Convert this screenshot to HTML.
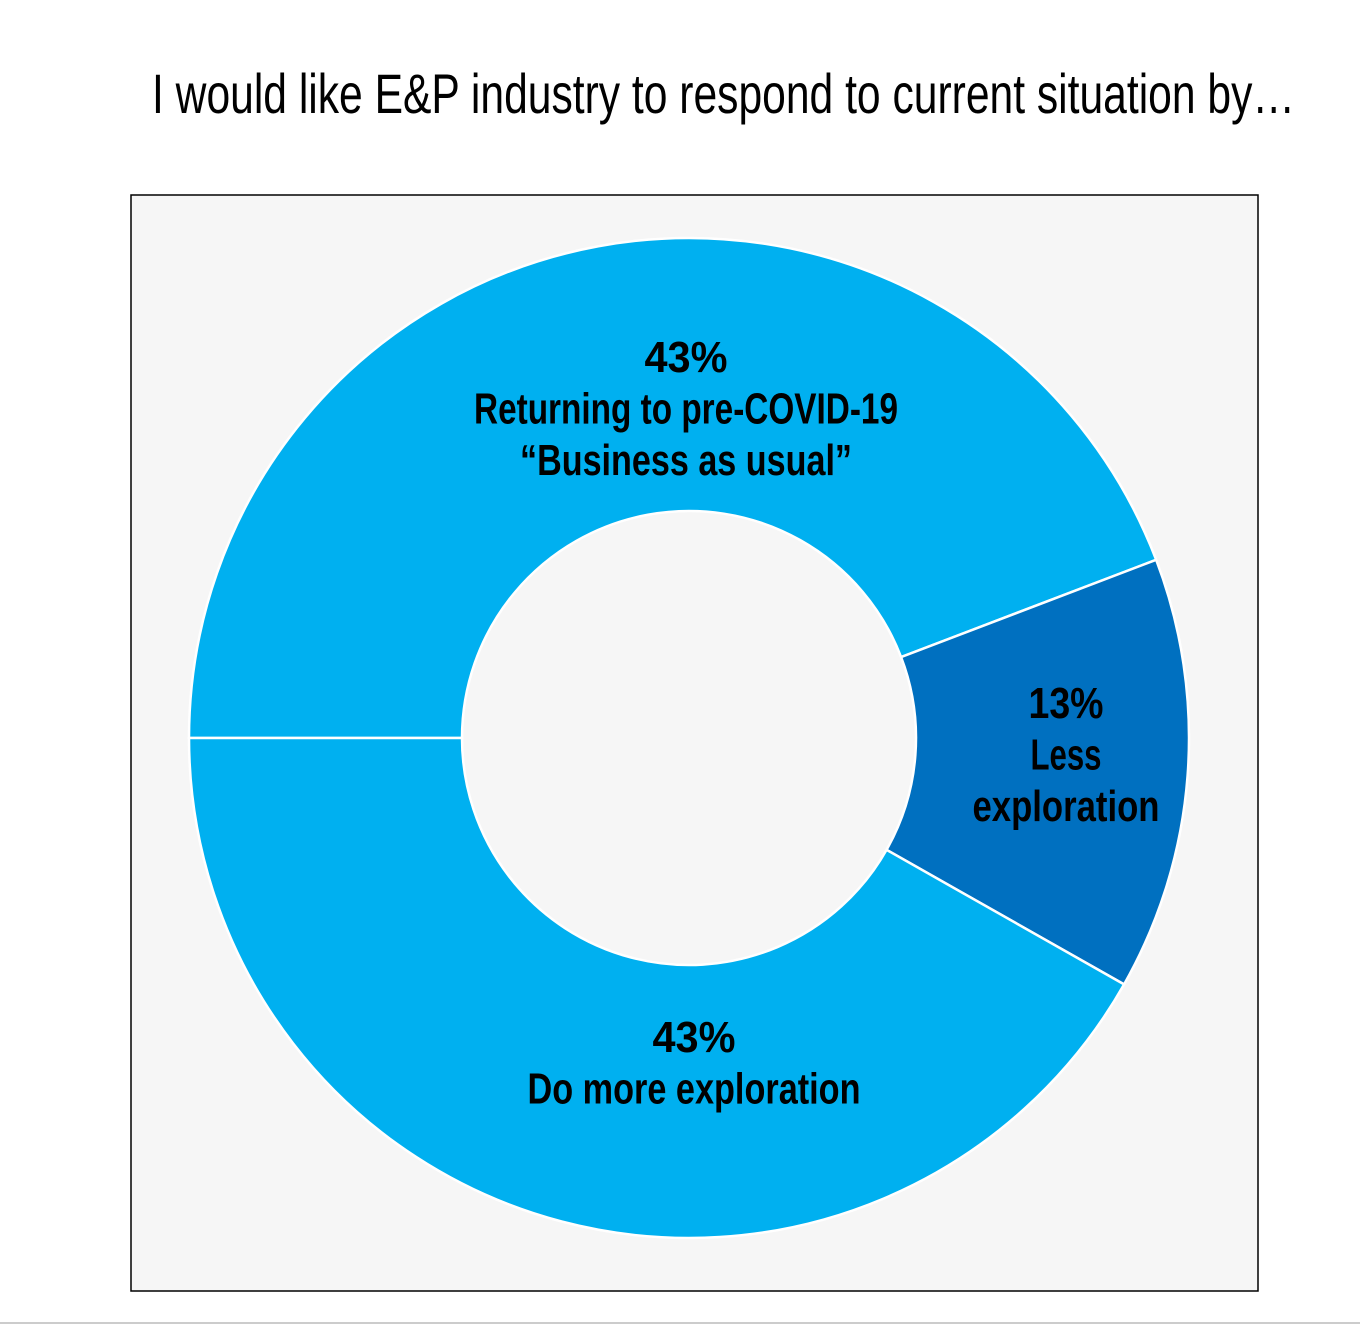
<!DOCTYPE html>
<html><head><meta charset="utf-8"><style>
html,body{margin:0;padding:0;background:#fff;}
svg{display:block;font-family:"Liberation Sans Narrow","Liberation Sans",sans-serif;}
</style></head><body>
<svg width="1360" height="1327" viewBox="0 0 1360 1327">
<text x="152" y="113" font-size="56" textLength="1143" lengthAdjust="spacingAndGlyphs" fill="#000">I would like E&amp;P industry to respond to current situation by…</text>
<rect x="131" y="195" width="1127" height="1096" fill="#f6f6f6" stroke="#000" stroke-width="1.5"/>
<line x1="0" y1="1323" x2="1360" y2="1323" stroke="#ccc" stroke-width="2"/>
<g id="slices"></g>
<g id="labels"></g>
</svg>
<script>
const categories = ["Returning to pre-COVID-19 “Business as usual”", "Less exploration", "Do more exploration"];
const values = [44.2, 14.0, 41.8];
const percentLabels = ["43%", "13%", "43%"];
const colors = ["#00b0f0", "#0070c0", "#00b0f0"];
const labelLines = [["Returning to pre-COVID-19", "“Business as usual”"], ["Less", "exploration"], ["Do more exploration"]];

const cx = 689, cy = 738, R = 500, r = 227;
const NS = "http://www.w3.org/2000/svg";
// layout (not data): label anchor centers, first baseline, line widths
const labelLayout = [
  {x: 686, y: 372, w: [83, 424, 332]},
  {x: 1066, y: 718, w: [75, 71, 187]},
  {x: 694, y: 1052, w: [83, 333]}
];
const total = values.reduce((a, b) => a + b, 0);
function pt(rad, ang) { return [cx + rad * Math.cos(ang), cy + rad * Math.sin(ang)]; }
const slicesG = document.getElementById("slices");
const labelsG = document.getElementById("labels");
let a0 = Math.PI;
values.forEach((v, i) => {
  const a1 = a0 + v / total * 2 * Math.PI;
  const large = (a1 - a0) > Math.PI ? 1 : 0;
  const [x0, y0] = pt(R, a0), [x1, y1] = pt(R, a1), [x2, y2] = pt(r, a1), [x3, y3] = pt(r, a0);
  const p = document.createElementNS(NS, "path");
  p.setAttribute("d", `M${x0},${y0} A${R},${R} 0 ${large} 1 ${x1},${y1} L${x2},${y2} A${r},${r} 0 ${large} 0 ${x3},${y3} Z`);
  p.setAttribute("fill", colors[i]);
  p.setAttribute("stroke", "#fff");
  p.setAttribute("stroke-width", "2.5");
  
  
  slicesG.appendChild(p);
  const L = labelLayout[i];
  const lines = [percentLabels[i]].concat(labelLines[i]);
  lines.forEach((t, j) => {
    const tx = document.createElementNS(NS, "text");
    tx.setAttribute("x", L.x);
    tx.setAttribute("y", L.y + j * 51.5);
    tx.setAttribute("text-anchor", "middle");
    tx.setAttribute("font-size", "44");
    tx.setAttribute("font-weight", "bold");
    tx.setAttribute("fill", "#000");
    if (L.w[j]) { tx.setAttribute("textLength", L.w[j]); tx.setAttribute("lengthAdjust", "spacingAndGlyphs"); }
    tx.textContent = t;
    
    
    labelsG.appendChild(tx);
  });
  a0 = a1;
});
</script>
</body></html>
